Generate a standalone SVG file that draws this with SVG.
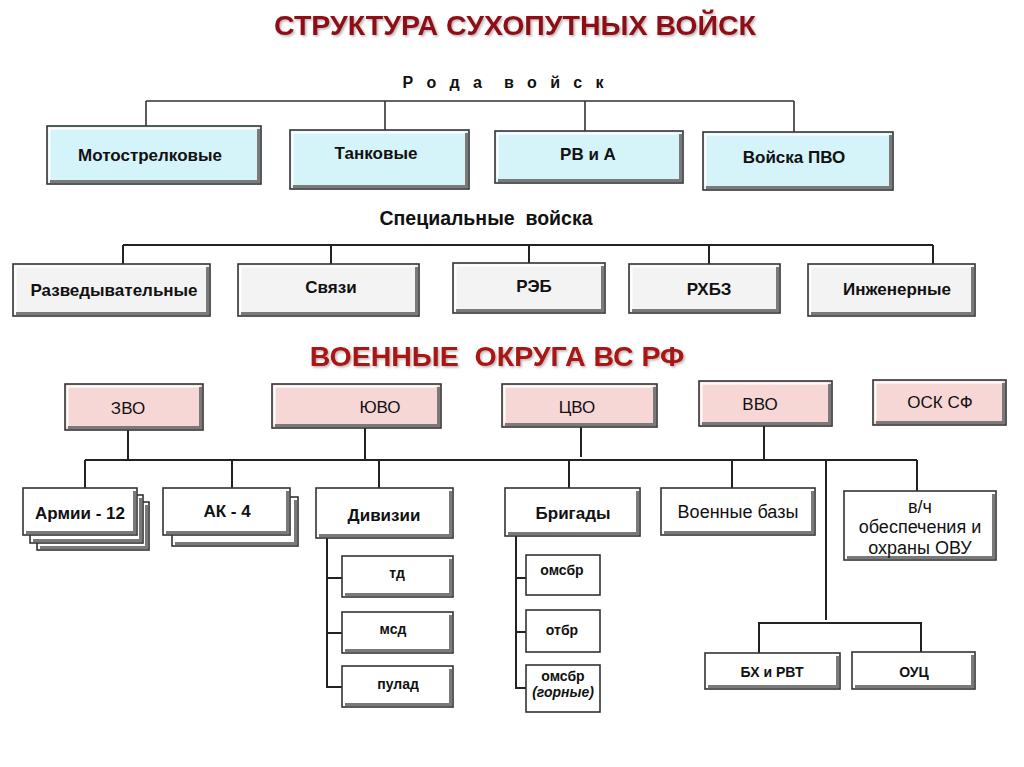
<svg xmlns="http://www.w3.org/2000/svg" width="1024" height="767" viewBox="0 0 1024 767">
<defs>
<style>
text{font-family:"Liberation Sans",Arial,sans-serif;fill:#111;text-anchor:middle;white-space:pre}
.b{font-weight:bold}
.title{font-size:28.5px;font-weight:bold;fill:#8E0F12}
.red{font-size:28.5px;font-weight:bold;fill:#A81414}
.hdr{font-size:19.5px;font-weight:bold}
.t17{font-size:17px}
.t18{font-size:18px}
.t14{font-size:14px;font-weight:bold}
.box{stroke:#333;stroke-width:1.6}
.cy{fill:#D5F4F9}
.gr{fill:#F3F3F3}
.pk{fill:#F7D6D6}
.wh{fill:#FFFFFF}
.sh{fill:none;stroke:#7a7a7a;stroke-width:3}
.hl{fill:none;stroke:#ffffff;stroke-width:2}
.ln{fill:none;stroke:#222;stroke-width:2}
.ln1{fill:none;stroke:#333;stroke-width:1.6}
</style>
<filter id="ts" x="-5%" y="-20%" width="110%" height="150%">
<feDropShadow dx="1.5" dy="1.5" stdDeviation="1" flood-color="#000" flood-opacity="0.3"/>
</filter>
</defs>
<rect width="1024" height="767" fill="#ffffff"/>

<text class="title" x="515" y="35" filter="url(#ts)">СТРУКТУРА СУХОПУТНЫХ ВОЙСК</text>
<text class="hdr" x="503" y="88" textLength="201" lengthAdjust="spacing" style="font-size:16px">Р о д а  в о й с к</text>
<text class="hdr" x="486" y="225">Специальные  войска</text>
<text class="red" x="497" y="366" filter="url(#ts)">ВОЕННЫЕ  ОКРУГА ВС РФ</text>

<g id="connectors">
<path class="ln1" d="M146 101 H794 M146 101 V126 M385 101 V130 M585 101 V131 M794 101 V132"/>
<path class="ln" d="M123 245 H933 M123 245 V264 M331 245 V264 M529 245 V263 M709 245 V264 M933 245 V264"/>
<path class="ln" d="M128 430 V460 M365 428 V460 M581 427 V457 M764 426 V460"/>
<path class="ln" d="M85 460 H917 M85 460 V488 M232 460 V488 M379 460 V488 M569 460 V488 M732 460 V488 M826 460 V620 M917 460 V491"/>
<path class="ln" d="M327 538 V687 H342 M327 578 H342 M327 633 H342"/>
<path class="ln" d="M516 536 V688 H526 M516 578 H526 M516 632 H526"/>
<path class="ln" d="M759 653 V623 H921 V652"/>
</g>

<g id="motostrelk"><rect class="box cy" x="47" y="126" width="214" height="58"/><path class="hl" d="M49.5 181 V128.5 H258"/><path class="sh" d="M258.5 129 V181.5 H50"/><text class="t17 b" x="150" y="161">Мотострелковые</text></g>
<g id="tank"><rect class="box cy" x="290" y="130" width="179" height="59"/><path class="hl" d="M292.5 186 V132.5 H466"/><path class="sh" d="M466.5 133 V186.5 H293"/><text class="t17 b" x="376" y="159">Танковые</text></g>
<g id="rva"><rect class="box cy" x="495" y="131" width="188" height="52"/><path class="hl" d="M497.5 180 V133.5 H680"/><path class="sh" d="M680.5 134 V180.5 H498"/><text class="t17 b" x="588" y="160">РВ и А</text></g>
<g id="pvo"><rect class="box cy" x="703" y="132" width="190" height="58"/><path class="hl" d="M705.5 187 V134.5 H890"/><path class="sh" d="M890.5 135 V187.5 H706"/><text class="t17 b" x="794" y="163">Войска ПВО</text></g>

<g id="razved"><rect class="box gr" x="13" y="264" width="197" height="52"/><path class="hl" d="M15.5 313 V266.5 H207"/><path class="sh" d="M207.5 267 V313.5 H16"/><text class="t17 b" x="114" y="296">Разведывательные</text></g>
<g id="svyazi"><rect class="box gr" x="238" y="264" width="181" height="52"/><path class="hl" d="M240.5 313 V266.5 H416"/><path class="sh" d="M416.5 267 V313.5 H241"/><text class="t17 b" x="331" y="293">Связи</text></g>
<g id="reb"><rect class="box gr" x="453" y="263" width="152" height="50"/><path class="hl" d="M455.5 310 V265.5 H602"/><path class="sh" d="M602.5 266 V310.5 H456"/><text class="t17 b" x="534" y="292">РЭБ</text></g>
<g id="rhbz"><rect class="box gr" x="629" y="264" width="151" height="49"/><path class="hl" d="M631.5 310 V266.5 H777"/><path class="sh" d="M777.5 267 V310.5 H632"/><text class="t17 b" x="709" y="295">РХБЗ</text></g>
<g id="inzh"><rect class="box gr" x="808" y="264" width="167" height="52"/><path class="hl" d="M810.5 313 V266.5 H972"/><path class="sh" d="M972.5 267 V313.5 H811"/><text class="t17 b" x="897" y="295">Инженерные</text></g>

<g id="zvo"><rect class="box pk" x="65" y="384" width="138" height="46"/><path class="hl" d="M67.5 427 V386.5 H200"/><path class="sh" d="M200.5 387 V427.5 H68"/><text class="t17" x="128" y="414">ЗВО</text></g>
<g id="yuvo"><rect class="box pk" x="272" y="384" width="169" height="44"/><path class="hl" d="M274.5 425 V386.5 H438"/><path class="sh" d="M438.5 387 V425.5 H275"/><text class="t17" x="380" y="413">ЮВО</text></g>
<g id="cvo"><rect class="box pk" x="502" y="384" width="155" height="43"/><path class="hl" d="M504.5 424 V386.5 H654"/><path class="sh" d="M654.5 387 V424.5 H505"/><text class="t17" x="577" y="413">ЦВО</text></g>
<g id="vvo"><rect class="box pk" x="699" y="381" width="133" height="45"/><path class="hl" d="M701.5 423 V383.5 H829"/><path class="sh" d="M829.5 384 V423.5 H702"/><text class="t17" x="760" y="410">ВВО</text></g>
<g id="osksf"><rect class="box pk" x="873" y="380" width="133" height="45"/><path class="hl" d="M875.5 422 V382.5 H1003"/><path class="sh" d="M1003.5 383 V422.5 H876"/><text class="t17" x="940" y="408">ОСК СФ</text></g>

<g id="armii">
<rect class="box wh" x="37" y="502" width="112" height="48"/><path class="sh" d="M146.5 505 V547.5 H40"/>
<rect class="box wh" x="30" y="495" width="113" height="48"/><path class="sh" d="M140.5 498 V540.5 H33"/>
<rect class="box wh" x="23" y="488" width="114" height="47"/><path class="hl" d="M25.5 532 V490.5 H134"/><path class="sh" d="M134.5 491 V532.5 H26"/>
<text class="t17 b" x="80" y="519">Армии - 12</text></g>
<g id="ak">
<rect class="box wh" x="172" y="497" width="126" height="49"/><path class="sh" d="M295.5 500 V543.5 H175"/>
<rect class="box wh" x="163" y="488" width="127" height="47"/><path class="hl" d="M165.5 532 V490.5 H287"/><path class="sh" d="M287.5 491 V532.5 H166"/>
<text class="t17 b" x="227" y="517">АК - 4</text></g>
<g id="divizii"><rect class="box wh" x="316" y="488" width="137" height="50"/><path class="hl" d="M318.5 535 V490.5 H450"/><path class="sh" d="M450.5 491 V535.5 H319"/><text class="t17 b" x="384" y="521">Дивизии</text></g>
<g id="brigady"><rect class="box wh" x="505" y="488" width="135" height="48"/><path class="hl" d="M507.5 533 V490.5 H637"/><path class="sh" d="M637.5 491 V533.5 H508"/><text class="t17 b" x="573" y="519">Бригады</text></g>
<g id="voenbazy"><rect class="box wh" x="661" y="488" width="154" height="47"/><path class="hl" d="M663.5 532 V490.5 H812"/><path class="sh" d="M812.5 491 V532.5 H664"/><text class="t18" x="738" y="518">Военные базы</text></g>
<g id="vch"><rect class="box wh" x="844" y="491" width="152" height="69"/><path class="hl" d="M846.5 557 V493.5 H993"/><path class="sh" d="M993.5 494 V557.5 H847"/><text class="t18" x="920" y="513">в/ч</text><text class="t18" x="920" y="533">обеспечения и</text><text class="t18" x="920" y="554">охраны ОВУ</text></g>

<g id="td"><rect class="box wh" x="342" y="556" width="111" height="41"/><path class="hl" d="M344.5 594 V558.5 H450"/><path class="sh" d="M450.5 559 V594.5 H345"/><text class="t14" x="397" y="578">тд</text></g>
<g id="msd"><rect class="box wh" x="342" y="612" width="111" height="41"/><path class="hl" d="M344.5 650 V614.5 H450"/><path class="sh" d="M450.5 615 V650.5 H345"/><text class="t14" x="393" y="634">мсд</text></g>
<g id="pulad"><rect class="box wh" x="342" y="666" width="111" height="41"/><path class="hl" d="M344.5 704 V668.5 H450"/><path class="sh" d="M450.5 669 V704.5 H345"/><text class="t14" x="398" y="689">пулад</text></g>

<g id="omsbr"><rect class="box wh" x="526" y="555" width="74" height="40"/><text class="t14" x="562" y="575">омсбр</text></g>
<g id="otbr"><rect class="box wh" x="526" y="610" width="74" height="42"/><text class="t14" x="562" y="635">отбр</text></g>
<g id="omsbr2"><rect class="box wh" x="526" y="665" width="74" height="47"/><text class="t14" x="563" y="681">омсбр</text><text class="t14" x="563" y="697" style="font-style:italic">(горные)</text></g>

<g id="bh"><rect class="box wh" x="705" y="653" width="135" height="36"/><path class="hl" d="M707.5 686 V655.5 H837"/><path class="sh" d="M837.5 656 V686.5 H708"/><text class="t14" x="772" y="677">БХ и РВТ</text></g>
<g id="ouc"><rect class="box wh" x="852" y="652" width="123" height="37"/><path class="hl" d="M854.5 686 V654.5 H972"/><path class="sh" d="M972.5 655 V686.5 H855"/><text class="t14" x="914" y="677">ОУЦ</text></g>
</svg>
